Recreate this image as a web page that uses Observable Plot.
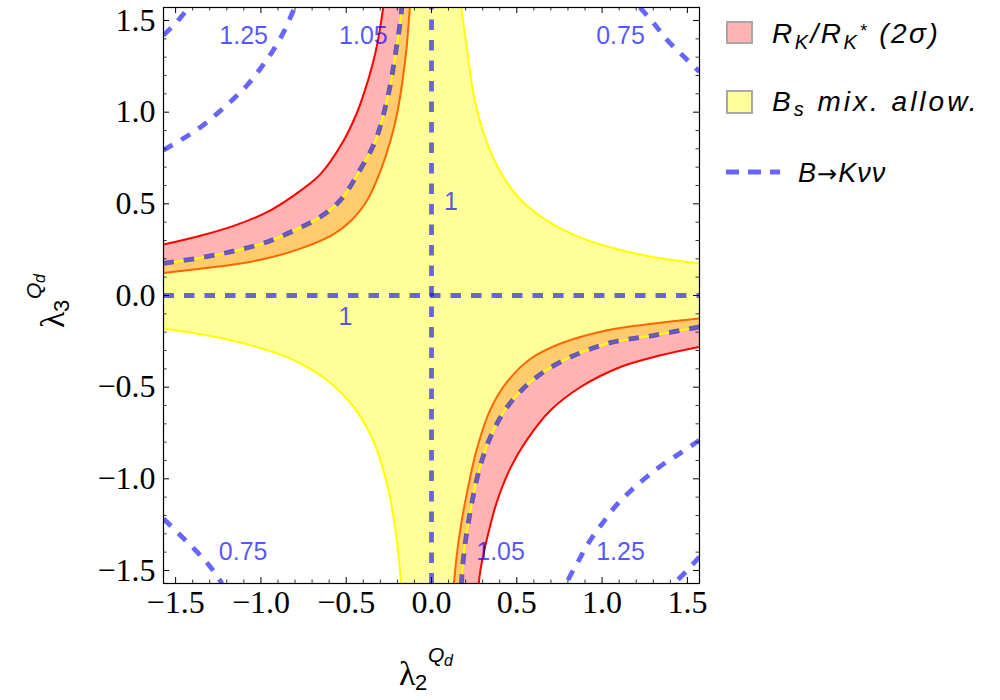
<!DOCTYPE html>
<html>
<head>
<meta charset="utf-8">
<script src="https://cdn.jsdelivr.net/npm/d3@7"></script>
<script src="https://cdn.jsdelivr.net/npm/@observablehq/plot@0.6"></script>
<style>
  body { margin: 0; background: #fff; }
  #chart { width: 1000px; height: 700px; }
</style>
</head>
<body>
<div id="chart"></div>
<script>
// ---- axis extents and ticks ----
const xDomain = [-1.571, 1.571];
const yDomain = [-1.571, 1.571];
const majorTicks = [-1.5, -1.0, -0.5, 0.0, 0.5, 1.0, 1.5];
const minorTicks = [-1.4, -1.3, -1.2, -1.1, -0.9, -0.8, -0.7, -0.6, -0.4, -0.3, -0.2, -0.1,
                    0.1, 0.2, 0.3, 0.4, 0.6, 0.7, 0.8, 0.9, 1.1, 1.2, 1.3, 1.4];

// ---- Bs mixing allowed region boundary (yellow), one branch per quadrant ----
const yellowUR = [[0.174,1.571],[0.209,1.338],[0.248,1.09],[0.317,0.855],[0.405,0.672],[0.522,0.522],[0.679,0.407],[0.874,0.316],[1.108,0.248],[1.343,0.203],[1.571,0.175]];
const yellowLL = [[-1.571,-0.18],[-1.316,-0.217],[-1.062,-0.271],[-0.827,-0.344],[-0.612,-0.462],[-0.456,-0.608],[-0.338,-0.80],[-0.26,-1.03],[-0.211,-1.28],[-0.178,-1.571]];
const yellowUL = [[-1.571,0.175],[-1.355,0.206],[-1.16,0.242],[-0.964,0.292],[-0.768,0.371],[-0.651,0.429],[-0.534,0.52],[-0.416,0.69],[-0.328,0.847],[-0.25,1.11],[-0.211,1.32],[-0.182,1.50],[-0.174,1.571]];
const yellowLR = [[1.571,-0.171],[1.304,-0.217],[1.03,-0.262],[0.757,-0.362],[0.581,-0.471],[0.444,-0.608],[0.346,-0.77],[0.277,-0.96],[0.229,-1.17],[0.192,-1.39],[0.175,-1.571]];

// ---- R_K / R_K* (2 sigma) band: outer (red) and inner (orange) edges ----
const redUL = [[-1.571,0.278],[-1.355,0.326],[-1.16,0.38],[-0.964,0.455],[-0.808,0.545],[-0.651,0.662],[-0.524,0.83],[-0.44,0.99],[-0.39,1.12],[-0.35,1.245],[-0.315,1.385],[-0.283,1.571]];
const redLR = [[1.571,-0.28],[1.343,-0.326],[1.108,-0.39],[0.874,-0.499],[0.698,-0.626],[0.561,-0.785],[0.463,-0.94],[0.385,-1.12],[0.327,-1.32],[0.29,-1.48],[0.277,-1.571]];
const orangeUL = [[-1.571,0.123],[-1.355,0.146],[-1.16,0.169],[-0.964,0.203],[-0.768,0.256],[-0.592,0.325],[-0.475,0.405],[-0.377,0.52],[-0.299,0.68],[-0.24,0.845],[-0.2,1.0],[-0.17,1.17],[-0.145,1.36],[-0.127,1.571]];
const orangeLR = [[1.571,-0.125],[1.304,-0.153],[1.03,-0.189],[0.757,-0.262],[0.581,-0.345],[0.444,-0.47],[0.346,-0.62],[0.268,-0.83],[0.209,-1.07],[0.16,-1.33],[0.131,-1.571]];

// ---- B -> K nu nu contours ----
const c1H = [[-1.571,0],[1.571,0]];
const c1V = [[0,-1.571],[0,1.571]];
const c105UL = yellowUL;
const c105LR = yellowLR;
const c125UL = [[-1.571,0.793],[-1.471,0.847],[-1.365,0.911],[-1.267,0.984],[-1.169,1.065],[-1.081,1.147],[-1.003,1.238],[-0.934,1.329],[-0.866,1.438],[-0.808,1.556],[-0.798,1.571]];
const c125LR = [[1.571,-0.789],[1.47,-0.853],[1.363,-0.917],[1.261,-0.99],[1.167,-1.066],[1.079,-1.149],[1.001,-1.244],[0.928,-1.339],[0.864,-1.444],[0.805,-1.544],[0.795,-1.571]];
const c15UL = [[-1.571,1.42],[-1.491,1.494],[-1.423,1.571]];
const c15LR = [[1.571,-1.426],[1.49,-1.508],[1.421,-1.571]];
const c075UR = [[1.222,1.571],[1.304,1.484],[1.382,1.393],[1.48,1.302],[1.571,1.22]];
const c075LL = [[-1.571,-1.218],[-1.462,-1.317],[-1.374,-1.399],[-1.296,-1.481],[-1.228,-1.571]];

// ---- contour labels ----
const labelText = ["1.25", "1.05", "0.75", "1", "1", "0.75", "1.05", "1.25"];
const labelX = [-1.101, -0.399, 1.108, 0.114, -0.504, -1.104, 0.405, 1.108];
const labelY = [1.416, 1.416, 1.416, 0.509, -0.118, -1.399, -1.401, -1.399];

// ---- legend ----
const legendItems = ["R_K/R_K* (2σ)", "B_s mix. allow.", "B→Kνν"];

// ---- layout / style ----
const W = 1000, H = 700, mL = 163, mR = 301, mT = 7, mB = 117;
const innerW = W - mL - mR, innerH = H - mT - mB;
const colYellowFill = "#ffff99", colPink = "#ffb3b3", colOrangeFill = "#ffcb6c";
const colYellowLine = "#ffff00", colRed = "#ff0000", colOrange = "#ff6600";
const blue = "#0000ff";

const L = (arr, o) => Plot.line(arr, {x: d => d[0], y: d => d[1], clip: true, ...o});
const rev = a => a.slice().reverse();

const yellowPoly = [...yellowUR, ...yellowLR, ...rev(yellowLL), ...yellowUL];
const pinkUL = [...redUL, ...rev(yellowUL)];
const pinkLR = [...redLR, ...rev(yellowLR)];
const orUL = [...yellowUL, ...rev(orangeUL)];
const orLR = [...yellowLR, ...rev(orangeLR)];

const fillOpt = c => ({fill: c, stroke: "none", curve: "linear"});
const lineOpt = c => ({stroke: c, strokeWidth: 2, curve: "catmull-rom"});
const dashOpt = {stroke: blue, strokeOpacity: 0.6, strokeWidth: 4.8, strokeDasharray: "10.5,10",
                 strokeLinecap: "butt", strokeLinejoin: "miter", curve: "catmull-rom"};
const fmt = d3.format(".1f");

const plot = Plot.plot({
  width: W, height: H,
  marginLeft: mL, marginRight: mR, marginTop: mT, marginBottom: mB,
  x: {domain: xDomain},
  y: {domain: yDomain},
  style: {background: "white", color: "black", fontFamily: "Liberation Serif"},
  marks: [
    L(yellowPoly, fillOpt(colYellowFill)),
    L(pinkUL, fillOpt(colPink)),
    L(pinkLR, fillOpt(colPink)),
    L(orUL, fillOpt(colOrangeFill)),
    L(orLR, fillOpt(colOrangeFill)),
    L(yellowUR, lineOpt(colYellowLine)),
    L(yellowLL, lineOpt(colYellowLine)),
    L(redUL, lineOpt(colRed)),
    L(redLR, lineOpt(colRed)),
    L(orangeUL, lineOpt(colOrange)),
    L(orangeLR, lineOpt(colOrange)),
    L(yellowUL, lineOpt(colYellowLine)),
    L(yellowLR, lineOpt(colYellowLine)),
    L(c1H, dashOpt),
    L(c1V, dashOpt),
    L(c105UL, dashOpt),
    L(c105LR, dashOpt),
    L(c125UL, dashOpt),
    L(c125LR, dashOpt),
    L(c15UL, dashOpt),
    L(c15LR, dashOpt),
    L(c075UR, dashOpt),
    L(c075LL, dashOpt),
    Plot.text(labelText, {
      x: (d, i) => labelX[i], y: (d, i) => labelY[i], text: d => d,
      fill: blue, fillOpacity: 0.68, fontSize: 25, fontFamily: "Liberation Sans",
      textAnchor: "middle", lineAnchor: "middle"
    }),
    Plot.frame({stroke: "black", strokeWidth: 1.2}),
    // inward frame ticks on all four sides
    Plot.ruleX(majorTicks, {x: d => d, insetTop: innerH - 6, stroke: "black"}),
    Plot.ruleX(majorTicks, {x: d => d, insetBottom: innerH - 6, stroke: "black"}),
    Plot.ruleX(minorTicks, {x: d => d, insetTop: innerH - 3.5, stroke: "black", strokeWidth: 0.8}),
    Plot.ruleX(minorTicks, {x: d => d, insetBottom: innerH - 3.5, stroke: "black", strokeWidth: 0.8}),
    Plot.ruleY(majorTicks, {y: d => d, insetRight: innerW - 6, stroke: "black"}),
    Plot.ruleY(majorTicks, {y: d => d, insetLeft: innerW - 6, stroke: "black"}),
    Plot.ruleY(minorTicks, {y: d => d, insetRight: innerW - 3.5, stroke: "black", strokeWidth: 0.8}),
    Plot.ruleY(minorTicks, {y: d => d, insetLeft: innerW - 3.5, stroke: "black", strokeWidth: 0.8}),
    Plot.axisX(majorTicks, {tickSize: 0, tickPadding: 7, tickFormat: fmt, fontSize: 32, fontFamily: "Liberation Serif", label: null}),
    Plot.axisY(majorTicks, {tickSize: 0, tickPadding: 8, tickFormat: fmt, fontSize: 32, fontFamily: "Liberation Serif", label: null})
  ]
});

document.getElementById("chart").appendChild(plot);

// ---- axis titles and legend drawn into the same SVG ----
const svg = d3.select(plot);
const sans = "Liberation Sans";

function axisTitle(g, sub) {
  g.attr("text-anchor", "start").attr("fill", "black");
  g.append("text").attr("x", 0).attr("y", 0)
    .attr("font-family", "Liberation Serif").attr("font-size", 34).text("λ");
  g.append("text").attr("x", 16).attr("y", 5)
    .attr("font-family", sans).attr("font-size", 22).text(sub);
  g.append("text").attr("x", 29).attr("y", -23)
    .attr("font-family", sans).attr("font-style", "italic").attr("font-size", 21).text("Q");
  g.append("text").attr("x", 45).attr("y", -19)
    .attr("font-family", sans).attr("font-style", "italic").attr("font-size", 16).text("d");
}
axisTitle(svg.append("g").attr("transform", "translate(399,685)"), "2");
axisTitle(svg.append("g").attr("transform", "translate(64,328) rotate(-90)"), "3");

const lg = svg.append("g").attr("font-family", sans).attr("font-style", "italic")
  .attr("fill", "black").attr("text-anchor", "start");
lg.append("rect").attr("x", 727).attr("y", 22).attr("width", 25).attr("height", 21)
  .attr("fill", colPink).attr("stroke", "#a8a8a8").attr("stroke-width", 2);
lg.append("rect").attr("x", 727).attr("y", 91).attr("width", 25).attr("height", 22)
  .attr("fill", colYellowFill).attr("stroke", "#a8a8a8").attr("stroke-width", 2);
lg.append("line").attr("x1", 726).attr("x2", 780).attr("y1", 172).attr("y2", 172)
  .attr("stroke", blue).attr("stroke-opacity", 0.6).attr("stroke-width", 5).attr("stroke-dasharray", "13,9");

// R_K/R_K* (2σ)
const t1 = lg.append("text").attr("x", 772).attr("y", 43).attr("font-size", 28).attr("letter-spacing", 2.5);
t1.append("tspan").text("R");
t1.append("tspan").attr("font-size", 20).attr("dy", 6).text("K");
t1.append("tspan").attr("dy", -6).text("/R");
t1.append("tspan").attr("font-size", 20).attr("dy", 6).text("K");
t1.append("tspan").attr("font-size", 18).attr("dy", -12).text("*");
t1.append("tspan").attr("dy", 6).text(" (2σ)");

// B_s mix. allow.
const t2 = lg.append("text").attr("x", 772).attr("y", 111).attr("font-size", 28).attr("letter-spacing", 3);
t2.append("tspan").text("B");
t2.append("tspan").attr("font-size", 20).attr("dy", 5).text("s");
t2.append("tspan").attr("dy", -5).text(" mix. allow.");

// B→Kνν
const [b3, a3, k3] = [legendItems[2].slice(0, 1), legendItems[2].slice(1, 2), legendItems[2].slice(2)];
const t3 = lg.append("text").attr("x", 798).attr("y", 182).attr("font-size", 27).attr("letter-spacing", 1);
t3.append("tspan").text(b3);
t3.append("tspan").attr("font-family", "DejaVu Sans").attr("font-style", "normal").attr("font-size", 24).text(a3);
t3.append("tspan").text(k3);
</script>
</body>
</html>
